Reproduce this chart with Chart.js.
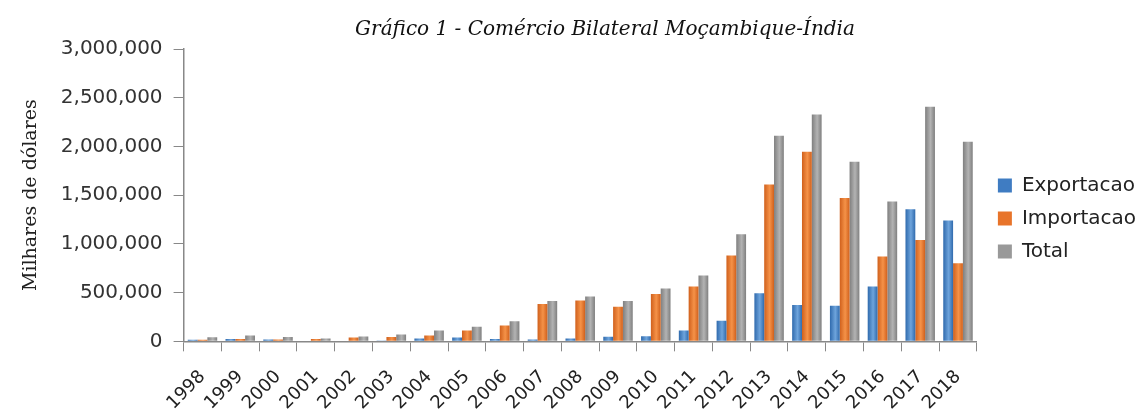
<!DOCTYPE html>
<html>
<head>
<meta charset="utf-8">
<script src="https://cdn.jsdelivr.net/npm/chart.js@4"></script>
<style>
  html, body { margin:0; padding:0; background:#fff; }
  #wrap { width:1146px; height:414px; }
</style>
</head>
<body>
<div id="wrap"><canvas id="chart" width="1146" height="414"></canvas></div>
<script>
// chart data (thousands of USD)
const years = ['1998','1999','2000','2001','2002','2003','2004','2005','2006','2007','2008',
               '2009','2010','2011','2012','2013','2014','2015','2016','2017','2018'];
const exportacao = [15000, 25000, 20000, 5000, 5000, 3000, 28000, 40000, 25000, 18000, 30000,
                    48000, 51000, 110000, 212000, 493000, 373000, 366000, 562000, 1356000, 1240000];
const importacao = [15000, 25000, 20000, 25000, 40000, 45000, 60000, 110000, 162000, 383000, 418000,
                    356000, 486000, 562000, 880000, 1610000, 1945000, 1472000, 870000, 1041000, 801000];
const total = [41000, 60000, 45000, 28000, 50000, 70000, 110000, 150000, 205000, 414000, 459000,
               414000, 541000, 675000, 1099000, 2109000, 2329000, 1843000, 1435000, 2407000, 2048000];

const titleText = 'Gráfico 1 - Comércio Bilateral Moçambique-Índia';

// gradient stops per series: edge, centre
const shades = [
    ['#2f6aad', '#6ea4dc'],
    ['#d0601c', '#f59248'],
    ['#7f7f7f', '#b3b3b3']
];

// paint each bar with a horizontal gradient (Excel 2007 look)
const barShading = {
    id: 'barShading',
    beforeDatasetsDraw(chart) {
        const ctx = chart.ctx;
        chart.data.datasets.forEach((ds, i) => {
            const meta = chart.getDatasetMeta(i);
            meta.data.forEach(bar => {
                const half = bar.width / 2;
                const g = ctx.createLinearGradient(bar.x - half, 0, bar.x + half, 0);
                g.addColorStop(0, shades[i][0]);
                g.addColorStop(0.55, shades[i][1]);
                g.addColorStop(1, shades[i][0]);
                bar.options.backgroundColor = g;
            });
        });
    }
};

// title drawn over the plot, slightly right of centre like the original
const topTitle = {
    id: 'topTitle',
    afterLayout(chart) {
        // legend sits a bit up and to the right in the original
        const lg = chart.legend;
        lg.top -= 13; lg.bottom -= 13;
        lg.left += 8; lg.right += 8;
    },
    afterDraw(chart) {
        const ctx = chart.ctx;
        ctx.save();
        ctx.font = 'italic 20px "DejaVu Serif"';
        ctx.fillStyle = '#111';
        ctx.textAlign = 'center';
        ctx.textBaseline = 'middle';
        ctx.fillText(titleText, 605, 30);
        ctx.restore();
    }
};

const solid = (c) => () => c;

new Chart(document.getElementById('chart').getContext('2d'), {
    type: 'bar',
    data: {
        labels: years,
        datasets: [
            {label:'Exportacao', data:exportacao, backgroundColor: solid('#3f7cc2'), borderWidth:0},
            {label:'Importacao', data:importacao, backgroundColor: solid('#e8742a'), borderWidth:0},
            {label:'Total', data:total, backgroundColor: solid('#999999'), borderWidth:0}
        ]
    },
    options: {
        responsive: false,
        animation: false,
        layout: { padding: { top: 49, bottom: 0, left: 16, right: 8 } },
        datasets: { bar: { categoryPercentage: 0.78, barPercentage: 1.0 } },
        plugins: {
            title: { display: false },
            tooltip: { enabled: false },
            legend: {
                position: 'right',
                labels: {
                    boxWidth: 14, boxHeight: 14, padding: 13,
                    color: '#222',
                    font: { family: 'DejaVu Sans', size: 20 }
                }
            }
        },
        scales: {
            x: {
                // rotated labels get more room than they need; give it back to the plot
                afterFit: s => { s.height -= 15; },
                grid: { display: true, drawOnChartArea: false, tickLength: 10, color: '#888' },
                border: { color: '#888', width: 1.5 },
                ticks: {
                    minRotation: 45, maxRotation: 45, autoSkip: false,
                    color: '#222', padding: 15,
                    font: { family: 'DejaVu Sans', size: 18 }
                }
            },
            y: {
                min: 0, max: 3000000,
                grid: { display: true, drawOnChartArea: false, tickLength: 10, color: '#888' },
                border: { color: '#888', width: 1.5 },
                ticks: {
                    stepSize: 500000, color: '#333', padding: 11,
                    font: { family: 'DejaVu Sans', size: 20 },
                    callback: v => v.toLocaleString('en-US')
                },
                title: {
                    display: true, text: 'Milhares de dólares', color: '#222',
                    font: { family: 'DejaVu Serif', size: 19 }, padding: { bottom: 7 }
                }
            }
        }
    },
    plugins: [barShading, topTitle]
});
</script>
</body>
</html>
